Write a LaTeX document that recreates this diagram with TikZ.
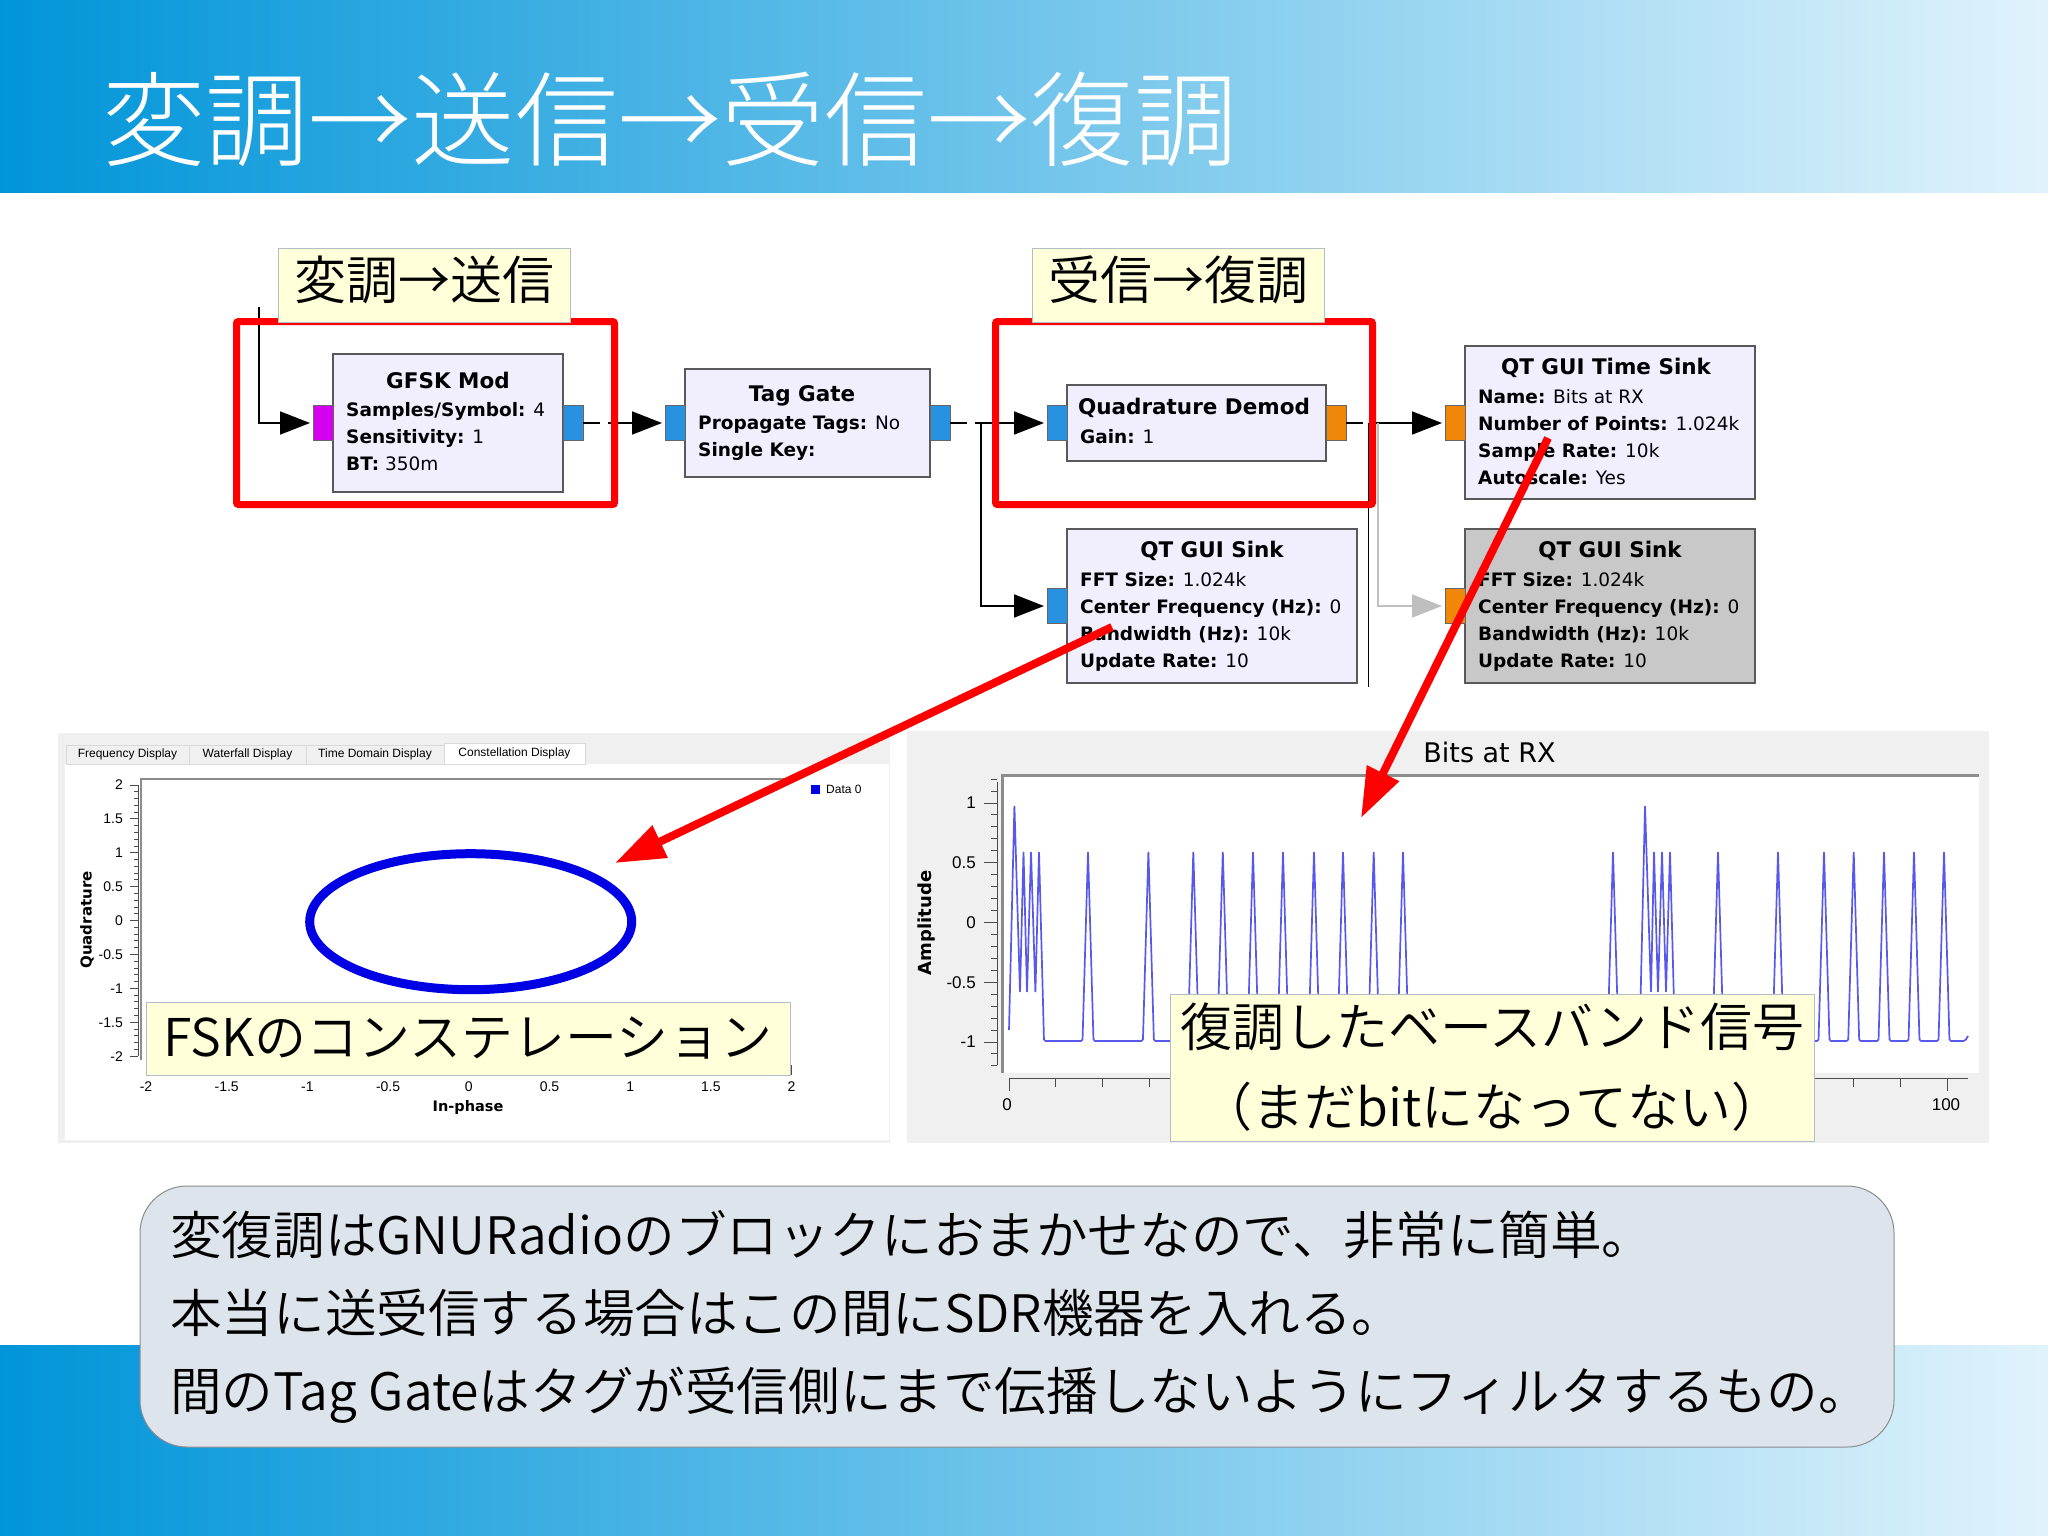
\documentclass[tikz,border=0pt]{standalone}
\usepackage{fontspec}
\usetikzlibrary{arrows.meta}
\usetikzlibrary{positioning}
\setmainfont{Noto Sans CJK JP DemiLight}
\newfontfamily\titlefont{Noto Sans CJK JP Light}
\newfontfamily\grcfont{DejaVu Sans}
\newfontfamily\qtfont{Liberation Sans}
\definecolor{bandleft}{RGB}{0,149,217}
\definecolor{bandmid}{RGB}{84,187,234}
\definecolor{bandright}{RGB}{224,243,252}
\definecolor{blockfill}{RGB}{241,238,254}
\definecolor{blockgray}{RGB}{200,200,200}
\definecolor{portblue}{RGB}{41,146,224}
\definecolor{portorange}{RGB}{240,135,8}
\definecolor{portmagenta}{RGB}{214,0,240}
\definecolor{notefill}{RGB}{255,255,217}
\definecolor{noteedge}{RGB}{176,190,200}
\definecolor{panelgray}{RGB}{240,240,240}
\definecolor{wavecolor}{RGB}{88,88,235}
\definecolor{boxfill}{RGB}{222,228,236}
\tikzstyle{band}=[left color=bandleft, middle color=bandmid, right color=bandright, draw=none]
\tikzstyle{block}=[draw=black!65, line width=1.5pt, fill=blockfill, inner sep=0pt, outer sep=0pt]
\tikzstyle{portbox}=[draw=black!60, line width=1pt, minimum width=20pt, minimum height=35pt, inner sep=0pt, outer sep=0pt]
\tikzstyle{blocktitle}=[font=\grcfont\bfseries\fontsize{21.5}{21.5}\selectfont, inner sep=0pt]
\tikzstyle{blockbody}=[font=\grcfont\fontsize{18.5}{27}\selectfont, align=left, inner sep=0pt, anchor=north west]
\tikzstyle{flow}=[line width=1.8pt, -{Triangle[length=30pt,width=23pt]}, shorten >=3pt]
\tikzstyle{gapflow}=[flow, dash pattern=on 17pt off 8pt on 200pt off 0pt]
\tikzstyle{wire}=[line width=1.8pt]
\tikzstyle{redbox}=[draw=red, line width=7pt, rounded corners=2pt]
\tikzstyle{redarrow}=[draw=red, line width=8pt, -{Triangle[length=50pt,width=34pt]}]
\tikzstyle{note}=[draw=noteedge, line width=1pt, fill=notefill, inner sep=0pt, outer sep=0pt, font=\fontsize{52}{78}\selectfont, align=center]
\tikzstyle{ticklabel}=[font=\qtfont\fontsize{14}{14}\selectfont, inner sep=0pt]
\tikzstyle{tabbox}=[draw=black!15, fill=panelgray, font=\qtfont\fontsize{12}{12}\selectfont, inner sep=0pt, outer sep=0pt, minimum height=19pt, anchor=north west]
\newcommand{\kv}[2]{\textbf{#1:} #2}
\begin{document}
\begin{tikzpicture}[x=1pt, y=-1pt]
      \useasboundingbox (0, 0) rectangle (2048, 1536);

      % bands
      \fill[band] (0, 0) rectangle (2048, 192);
      \fill[band] (0, 1345) rectangle (2048, 1536);
      \node[text=white, anchor=west, inner sep=0pt, font=\titlefont\fontsize{103.2}{103.2}\selectfont] (title) at (102, 119) {変調→送信→受信→復調};

      % flowgraph
      \node[block, minimum width=230pt, minimum height=138pt] (gfsk) at (448, 423) {};
      \node[block, minimum width=245pt, minimum height=108pt] (tag) at (807.5, 423) {};
      \node[block, minimum width=259pt, minimum height=76pt] (demod) at (1196.5, 423) {};
      \node[block, minimum width=290pt, minimum height=153pt] (timesink) at (1610, 422.5) {};
      \node[block, minimum width=290pt, minimum height=154pt] (fftsink) at (1212, 606) {};
      \node[block, fill=blockgray, minimum width=290pt, minimum height=154pt] (graysink) at (1610, 606) {};

      \node[portbox, fill=portmagenta, anchor=east] (gfsk_in) at (gfsk.west) {};
      \node[portbox, fill=portblue, anchor=west] (gfsk_out) at (gfsk.east) {};
      \node[portbox, fill=portblue, anchor=east] (tag_in) at (tag.west) {};
      \node[portbox, fill=portblue, anchor=west] (tag_out) at (tag.east) {};
      \node[portbox, fill=portblue, anchor=east] (demod_in) at (demod.west) {};
      \node[portbox, fill=portorange, anchor=west] (demod_out) at (demod.east) {};
      \node[portbox, fill=portorange, anchor=east] (timesink_in) at (timesink.west |- demod) {};
      \node[portbox, fill=portblue, anchor=east] (fftsink_in) at (fftsink.west) {};
      \node[portbox, fill=portorange, anchor=east] (graysink_in) at (graysink.west) {};

      \node[blocktitle] (gfsk_title) at (448, 380) {GFSK Mod};
      \node[blockbody] (gfsk_text) at (346, 402) {\kv{Samples/Symbol}{4}\\\kv{Sensitivity}{1}\\\kv{BT}{350m}};
      \node[blocktitle] (tag_title) at (802, 396) {Tag Gate};
      \node[blockbody] (tag_text) at (698, 416) {\kv{Propagate Tags}{No}\\\textbf{Single Key:}};
      \node[blocktitle] (demod_title) at (1194, 408) {Quadrature Demod};
      \node[blockbody] (demod_text) at (1080, 429) {\kv{Gain}{1}};
      \node[blocktitle] (timesink_title) at (1606, 368) {QT GUI Time Sink};
      \node[blockbody] (timesink_text) at (1478, 389) {\kv{Name}{Bits at RX}\\\kv{Number of Points}{1.024k}\\\kv{Sample Rate}{10k}\\\kv{Autoscale}{Yes}};
      \node[blocktitle] (fftsink_title) at (1212, 551) {QT GUI Sink};
      \node[blockbody] (fftsink_text) at (1080, 572) {\kv{FFT Size}{1.024k}\\\kv{Center Frequency (Hz)}{0}\\\kv{Bandwidth (Hz)}{10k}\\\kv{Update Rate}{10}};
      \node[blocktitle] (graysink_title) at (1610, 551) {QT GUI Sink};
      \node[blockbody] (graysink_text) at (1478, 572) {\kv{FFT Size}{1.024k}\\\kv{Center Frequency (Hz)}{0}\\\kv{Bandwidth (Hz)}{10k}\\\kv{Update Rate}{10}};

      \coordinate (src) at (259, 307);
      \coordinate (tag_tee) at (981, 423);
      \coordinate (rx_tee) at (1368.5, 423);
      \coordinate (rx_end) at (1368.5, 687);
      \coordinate (gray_tee) at (1378, 423);

      \draw[flow] (src) |- (gfsk_in);
      \draw[gapflow] (gfsk_out) -- (tag_in);
      \draw[gapflow] (tag_out) -- (demod_in);
      \draw[flow] (tag_tee) |- (fftsink_in);
      \draw[gapflow] (demod_out) -- (timesink_in);
      \draw[wire] (rx_tee) -- (rx_end);
      \draw[flow, draw=black!25] (gray_tee) |- (graysink_in);

      \draw[redbox] (236.5, 321.5) rectangle (614.5, 504.5);
      \draw[redbox] (995.5, 321.5) rectangle (1372.5, 504.5);
      \node[note, text depth=14pt, minimum width=292pt, minimum height=74pt] (mod_note) at (424, 285) {変調→送信};
      \node[note, text depth=14pt, minimum width=292pt, minimum height=74pt] (demod_note) at (1178, 285) {受信→復調};

      % constellation panel
      \fill[panelgray] (58, 733) rectangle (890, 1143);
      \fill[white] (65, 764) rectangle (889, 1140);
      \node[tabbox, minimum width=123pt] (tab_freq) at (66, 745) {Frequency Display};
      \node[tabbox, minimum width=117pt] (tab_fall) at (189, 745) {Waterfall Display};
      \node[tabbox, minimum width=138pt] (tab_time) at (306, 745) {Time Domain Display};
      \node[tabbox, fill=white, minimum width=141pt, minimum height=21pt] (tab_const) at (444, 743) {Constellation Display};
      \draw[black!45, line width=2pt] (141, 1060) -- (141, 779) -- (790, 779);
      \draw[black!70, line width=1pt] (138, 785) -- (138, 1056);
      \foreach \i in {0, ..., 40}
        \draw[black!70, line width=1pt] (134, {785 + 6.78 * \i}) -- (138, {785 + 6.78 * \i});
      \foreach \i/\lab in {0/2, 1/1.5, 2/1, 3/0.5, 4/0, 5/-0.5, 6/-1, 7/-1.5, 8/-2} {
        \draw[black!70, line width=1pt] (130, {785 + 33.9 * \i}) -- (138, {785 + 33.9 * \i});
        \node[ticklabel, anchor=east] (qtick\i) at (123, {785 + 33.9 * \i}) {\lab};
      }
      \foreach \i/\lab in {0/-2, 1/-1.5, 2/-1, 3/-0.5, 4/0, 5/0.5, 6/1, 7/1.5, 8/2}
        \node[ticklabel] (itick\i) at ({146 + 80.7 * \i}, 1087) {\lab};
      \node[font=\grcfont\bfseries\fontsize{15}{15}\selectfont, rotate=90, inner sep=0pt] (qname) at (87, 920) {Quadrature};
      \node[font=\grcfont\bfseries\fontsize{14.5}{14.5}\selectfont, inner sep=0pt] (iname) at (468, 1107) {In-phase};
      \draw[blue!90!black, line width=9pt] (470.7, 921.7) ellipse (161 and 68);
      \fill[blue!90!black] (811, 785) rectangle (820, 794);
      \node[ticklabel, anchor=west, font=\qtfont\fontsize{12}{12}\selectfont] (legend) at (826, 789) {Data 0};
      \draw[black!70, line width=1pt] (791.6, 1065) -- (791.6, 1075);
      \node[note, minimum width=644pt, minimum height=73pt] (fsk_note) at (468, 1038.5) {FSKのコンステレーション};

      % time panel
      \fill[panelgray] (907, 731) rectangle (1989, 1143);
      \fill[white] (1002, 775) rectangle (1979, 1073);
      \draw[black!45, line width=3pt] (1002, 1073) -- (1002, 775) -- (1979, 775);
      \node[font=\grcfont\fontsize{27}{27}\selectfont, inner sep=0pt] (bits_title) at (1489.5, 752) {Bits at RX};
      \draw[black!70, line width=1pt] (997, 782) -- (997, 1065);
      \foreach \i in {-2, ..., 22}
        \draw[black!70, line width=1pt] (991, {803 + 11.95 * \i}) -- (997, {803 + 11.95 * \i});
      \foreach \i/\lab in {0/1, 1/0.5, 2/0, 3/-0.5, 4/-1} {
        \draw[black!70, line width=1pt] (984, {803 + 59.75 * \i}) -- (997, {803 + 59.75 * \i});
        \node[ticklabel, anchor=east, font=\qtfont\fontsize{17}{17}\selectfont] (atick\i) at (976, {803 + 59.75 * \i}) {\lab};
      }
      \node[font=\grcfont\bfseries\fontsize{18}{18}\selectfont, rotate=90, inner sep=0pt] (aname) at (927, 923) {Amplitude};
      \draw[black!70, line width=1pt] (1009, 1078) -- (1968, 1078);
      \foreach \i in {0, ..., 20}
        \draw[black!70, line width=1pt] ({1009 + 46.9 * \i}, 1078) -- ({1009 + 46.9 * \i}, 1087);
      \draw[black!70, line width=1pt] (1009, 1078) -- (1009, 1091) (1947, 1078) -- (1947, 1091);
      \node[ticklabel, font=\qtfont\fontsize{17}{17}\selectfont] (ttick0) at (1007, 1105) {0};
      \node[ticklabel, font=\qtfont\fontsize{17}{17}\selectfont] (ttick100) at (1946, 1105) {100};
      \draw[wavecolor, line width=1.7pt, line join=round, rounded corners=1.5pt] (1009, 1030) -- (1014.4, 805) -- (1020, 993) -- (1023.5, 851) -- (1027, 993) -- (1031, 851) -- (1035.4, 993) -- (1039, 851) -- (1044, 1041)
        \foreach \p in {1088, 1148.4, 1193.3, 1222.8, 1253, 1283, 1314, 1343, 1373.7, 1403, 1613} { -- ({\p - 5.5}, 1041) -- (\p, 851) -- ({\p + 5.5}, 1041) }
        -- (1639.6, 1041) -- (1645, 805) -- (1651, 993) -- (1654, 851) -- (1658, 993) -- (1662, 851) -- (1666, 993) -- (1670, 851) -- (1675, 1041)
        \foreach \p in {1718, 1778, 1824, 1853.7, 1884, 1914, 1944} { -- ({\p - 5.5}, 1041) -- (\p, 851) -- ({\p + 5.5}, 1041) }
        -- (1965, 1041) -- (1968, 1036);
      \node[note, minimum width=644pt, minimum height=147pt] (wave_note) at (1492, 1067.5) {\raisebox{2pt}{復調したベースバンド信号}\\（まだbitになってない）};

      % arrows
      \coordinate (sink_from) at (1112, 627);
      \coordinate (const_to) at (615, 863);
      \coordinate (time_from) at (1548, 438);
      \coordinate (wave_to) at (1361, 818);
      \draw[redarrow] (sink_from) -- (const_to);
      \draw[redarrow] (time_from) -- (wave_to);

      % summary
      \node[draw=black!45, line width=1pt, fill=boxfill, rounded corners=47pt, minimum width=1754pt, minimum height=261pt, inner sep=0pt] (summary) at (1017, 1316.5) {};
      \node[anchor=west, inner sep=0pt, font=\fontsize{51.6}{78}\selectfont, align=left] (summary_text) at (170, 1317) {変復調はGNURadioのブロックにおまかせなので、非常に簡単。\\本当に送受信する場合はこの間にSDR機器を入れる。\\間のTag Gateはタグが受信側にまで伝播しないようにフィルタするもの。};
    \end{tikzpicture}
\end{document}
